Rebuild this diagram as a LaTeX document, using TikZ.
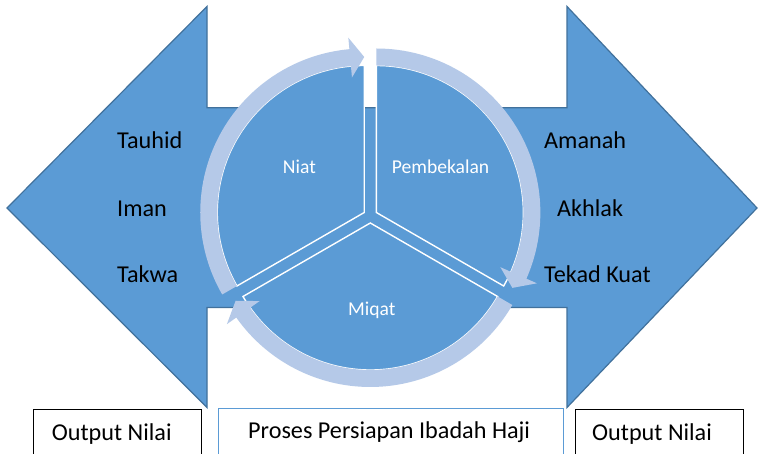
\documentclass[tikz,border=0pt]{standalone}
\usepackage{fontspec}
\setmainfont{Carlito}
\usetikzlibrary{calc}
\definecolor{accent}{HTML}{5B9BD5}
\definecolor{accentdark}{HTML}{41719C}
\definecolor{ringblue}{HTML}{B5C9E8}

% curved band with an arrow head: centre, start angle, tip angle (clockwise)
\newcommand\ringarc[3]{%
  \fill[ringband] ($(#1)+(#2:164)$) arc[start angle=#2, end angle=#3+5.2, radius=164]
    -- ($(#1)+(#3+5.2:175.5)$) -- ($(#1)+(#3:155.5)$) -- ($(#1)+(#3+5.2:135.5)$)
    -- ($(#1)+(#3+5.2:147)$) arc[start angle=#3+5.2, end angle=#2, radius=147] -- cycle;}

\begin{document}
\begin{tikzpicture}[x=1pt,y=1pt,
  bigarrow/.style={fill=accent, draw=accentdark, line width=1.2pt, line join=miter},
  sector/.style={fill=accent, draw=white, line width=1.4pt, line join=miter},
  ringband/.style={fill=ringblue},
  outer/.style={font=\fontsize{24.2}{29}\selectfont, text=black, inner sep=0pt, anchor=base west},
  inner/.style={font=\fontsize{19.6}{24}\selectfont, text=white, inner sep=0pt, anchor=base west},
  framebox/.style={draw=black, line width=1.3pt, fill=white, inner sep=0pt, anchor=north west},
]
\useasboundingbox (0,0) rectangle (758,454);
\clip (0,0) rectangle (758,454);
\fill[white] (0,0) rectangle (758,454);

% the two block arrows pointing outwards; the shaft ends under the cycle stay open
\draw[bigarrow] (350,346.3) -- (567,346.3) -- (567,447.5) -- (757,246)
  -- (567,46.5) -- (567,146.5) -- (350,146.5);
\draw[bigarrow] (390,346.3) -- (207,346.3) -- (207,447.5) -- (7,246)
  -- (207,46.5) -- (207,146.5) -- (390,146.5);

% segmented cycle
\coordinate (hub) at (370.3,238);
\coordinate (cNiat) at ($(hub)+(150:7)$);
\coordinate (cBekal) at ($(hub)+(30:7)$);
\coordinate (cMiqat) at ($(hub)+(270:7)$);

\draw[sector] (cNiat) -- ++(90:147) arc[start angle=90, end angle=210, radius=147] -- cycle;
\draw[sector] (cBekal) -- ++(-30:147) arc[start angle=-30, end angle=90, radius=147] -- cycle;
\draw[sector] (cMiqat) -- ++(210:147) arc[start angle=210, end angle=330, radius=147] -- cycle;

\ringarc{cNiat}{210}{90}
\ringarc{cBekal}{90}{-29}
\ringarc{cMiqat}{-30}{-150}

\node[inner] (niat) at (282.7,280) {Niat};
\node[inner] (bekal) at (391.7,280) {Pembekalan};
\node[inner] (miqat) at (348,138) {Miqat};

% values on the arrows
\node[outer] (tauhid) at (117,305) {Tauhid};
\node[outer] (iman) at (117,237) {Iman};
\node[outer] (takwa) at (117,171) {Takwa};
\node[outer] (amanah) at (544,305) {Amanah};
\node[outer] (akhlak) at (557,237) {Akhlak};
\node[outer] (tekad) at (544,171) {Tekad Kuat};

% captions below
\node[framebox, minimum width=168pt, minimum height=45pt] (boxL) at (33,45) {};
\node[framebox, draw=accent, minimum width=345pt, minimum height=46pt] (boxM) at (218,46) {};
\node[framebox, minimum width=168pt, minimum height=45pt] (boxR) at (575,45) {};
\node[outer] (outL) at (51.7,13.3) {Output Nilai};
\node[outer] (proses) at (248,15) {Proses Persiapan Ibadah Haji};
\node[outer] (outR) at (592,13.3) {Output Nilai};
\end{tikzpicture}
\end{document}
